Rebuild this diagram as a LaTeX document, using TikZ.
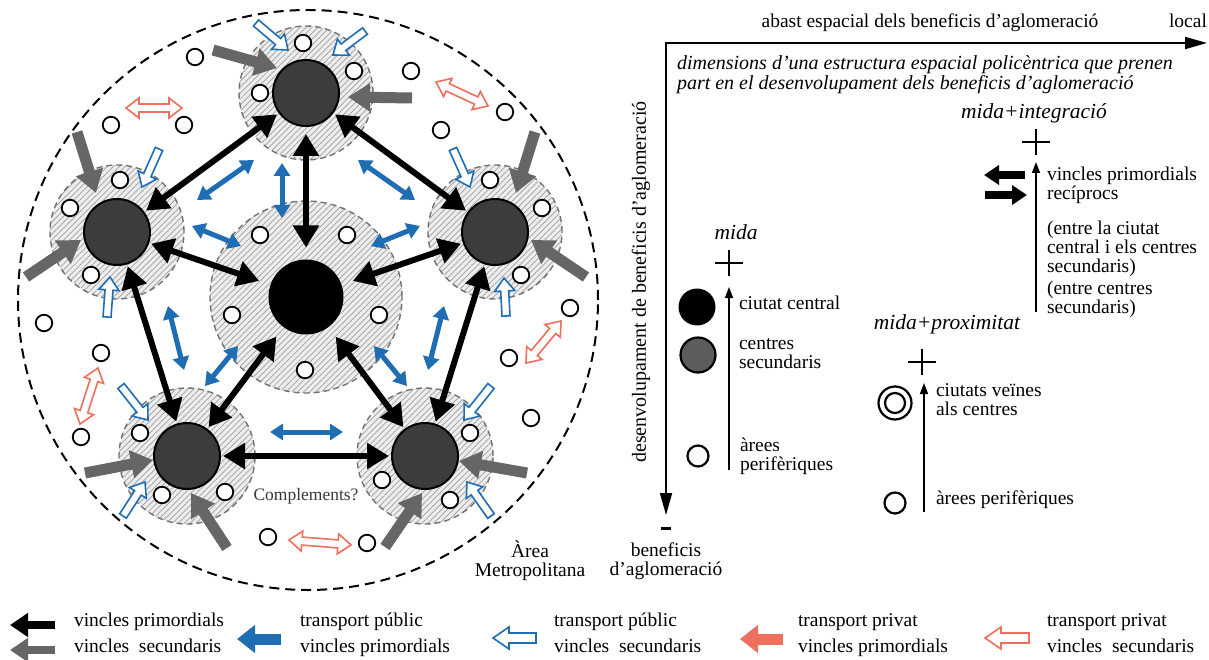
\documentclass[tikz,border=0pt]{standalone}
\usepackage{fontspec}
\setmainfont{Liberation Serif}
\usetikzlibrary{arrows.meta,calc,patterns.meta}
\definecolor{pubblue}{HTML}{1F6EB4}
\definecolor{privred}{HTML}{EE6F5C}
\definecolor{secgray}{HTML}{666666}
\definecolor{centregray}{HTML}{3C3C3C}
\definecolor{keygray}{HTML}{5C5C5C}
\newcommand\tallstrut{\rule{0pt}{13.5pt}}
% hollow single-headed arrow: style, tail, tip, shaft half-width, head half-width, head length
\newcommand\hollowarrow[6]{%
  \coordinate (hwA) at ($(#3)!#6!(#2)$);
  \draw[#1] ($(#2)!#4!90:(#3)$) -- ($(hwA)!#4!90:(#3)$) -- ($(hwA)!#5!90:(#3)$) -- (#3)
    -- ($(hwA)!#5!-90:(#3)$) -- ($(hwA)!#4!-90:(#3)$) -- ($(#2)!#4!-90:(#3)$) -- cycle;}
% hollow double-headed arrow: style, end, end, shaft half-width, head half-width, head length
\newcommand\hollowdarrow[6]{%
  \coordinate (hwA) at ($(#2)!#6!(#3)$);
  \coordinate (hwB) at ($(#3)!#6!(#2)$);
  \draw[#1] (#2) -- ($(hwA)!#5!90:(#3)$) -- ($(hwA)!#4!90:(#3)$) -- ($(hwB)!#4!-90:(#2)$)
    -- ($(hwB)!#5!-90:(#2)$) -- (#3) -- ($(hwB)!#5!90:(#2)$) -- ($(hwB)!#4!90:(#2)$)
    -- ($(hwA)!#4!-90:(#3)$) -- ($(hwA)!#5!-90:(#3)$) -- cycle;}
\begin{document}
\begin{tikzpicture}[x=1pt,y=-1pt,
  every node/.style={inner sep=0pt,outer sep=0pt},
  halo/.style={circle,draw=black!55,line width=1.4pt,dash pattern=on 6pt off 4pt,
    preaction={fill=black!7},
    pattern={Lines[angle=45,distance=4.2pt,line width=0.7pt]},pattern color=black!38},
  area/.style={circle,draw,line width=2pt,dash pattern=on 10pt off 6pt},
  pc/.style={circle,draw,line width=1.8pt,fill=white,minimum size=16.5pt},
  sec/.style={circle,draw,line width=2pt,fill=centregray,minimum size=66pt,outer sep=3pt},
  cen/.style={circle,fill=black,minimum size=75pt,outer sep=12pt},
  blk/.style={line width=6pt,{Triangle[length=22pt,width=25pt]}-{Triangle[length=22pt,width=25pt]}},
  pub/.style={draw=pubblue,line width=5pt,{Triangle[length=13pt,width=16pt]}-{Triangle[length=13pt,width=16pt]}},
  sgr/.style={draw=secgray,line width=11pt,-{Triangle[length=22pt,width=27pt]}},
  pubo/.style={draw=pubblue,fill=white,line width=1.6pt,line join=miter},
  privo/.style={draw=privred,fill=white,line width=1.6pt,line join=miter},
  axisline/.style={line width=1.8pt,{Triangle[length=22pt,width=12pt]}-{Triangle[length=22pt,width=12pt]}},
  uparrow/.style={line width=1.5pt,-{Triangle[length=11pt,width=8pt]}},
  plusmark/.style={line width=2.6pt},
  recip/.style={line width=8pt,-{Triangle[length=15pt,width=19pt]}},
  lbl/.style={font=\fontsize{19.5}{19}\selectfont},
  ml/.style={lbl,align=left,anchor=north west},
  itl/.style={font=\fontsize{21.5}{22}\selectfont\itshape,anchor=base},
  leg/.style={font=\fontsize{19.5}{26}\selectfont,align=left,anchor=north west}
]
\useasboundingbox (0,0) rectangle (1209,660);
\fill[white] (0,0) rectangle (1209,660);

% ---------------- hatched surroundings of the centres
\node[halo,minimum size=134pt] (hT) at (306,93) {};
\node[halo,minimum size=134pt] (hL) at (117,232) {};
\node[halo,minimum size=134pt] (hR) at (495,232) {};
\node[halo,minimum size=136pt] (hBL) at (187,456) {};
\node[halo,minimum size=136pt] (hBR) at (425,456) {};
\node[halo,minimum size=192pt] (hC) at (306,297) {};

% ---------------- metropolitan area
\node[area,minimum size=580pt] (area) at (308,300) {};

% ---------------- peripheral areas
\foreach \p [count=\i] in {(195,57),(303,43),(354,71),(260,93),(411,71),(111,125),(184,125),
  (441,130),(505,112),(120,180),(70,208),(91,275),(490,180),(542,208),(521,275),
  (260,235),(347,235),(232,315),(379,315),(305,370),(44,323),(570,308),(101,353),
  (509,358),(81,437),(531,418),(140,433),(162,495),(225,492),(470,433),(382,480),
  (450,500),(268,537),(367,543)}
  \node[pc] (per\i) at \p {};

% ---------------- centres
\node[sec] (T) at (306,93) {};
\node[sec] (L) at (117,232) {};
\node[sec] (R) at (495,232) {};
\node[sec] (BL) at (187,456) {};
\node[sec] (BR) at (425,456) {};
\node[cen] (C) at (306,297) {};

% ---------------- primary links
\draw[blk] (T) -- (L);
\draw[blk] (T) -- (R);
\draw[blk,shorten <=5pt] (T) -- (C);
\draw[blk] (L) -- (C);
\draw[blk] (R) -- (C);
\draw[blk] (BL) -- (C);
\draw[blk] (BR) -- (C);
\draw[blk] (L) -- (BL);
\draw[blk] (R) -- (BR);
\draw[blk] (BL) -- (BR);

% ---------------- public transport, primary links
\coordinate (p1a) at (254,160); \coordinate (p1b) at (197,200);
\coordinate (p2a) at (282,163); \coordinate (p2b) at (282,218);
\coordinate (p3a) at (358,160); \coordinate (p3b) at (415,200);
\coordinate (p4a) at (192,226); \coordinate (p4b) at (241,246);
\coordinate (p5a) at (420,226); \coordinate (p5b) at (371,246);
\coordinate (p6a) at (168,306); \coordinate (p6b) at (184,370);
\coordinate (p7a) at (444,306); \coordinate (p7b) at (428,370);
\coordinate (p8a) at (205,386); \coordinate (p8b) at (238,346);
\coordinate (p9a) at (407,386); \coordinate (p9b) at (374,346);
\coordinate (p10a) at (270,432); \coordinate (p10b) at (343,432);
\foreach \k in {1,...,10} \draw[pub] (p\k a) -- (p\k b);

% ---------------- secondary links
\coordinate (g1s) at (213,50);  \coordinate (g1e) at (277,68);
\coordinate (g2s) at (412,98);  \coordinate (g2e) at (348,97);
\coordinate (g3s) at (77,132);  \coordinate (g3e) at (96,193);
\coordinate (g4s) at (26,277);  \coordinate (g4e) at (81,240);
\coordinate (g5s) at (535,132); \coordinate (g5e) at (516,193);
\coordinate (g6s) at (586,277); \coordinate (g6e) at (531,240);
\coordinate (g7s) at (85,473);  \coordinate (g7e) at (153,460);
\coordinate (g8s) at (227,548); \coordinate (g8e) at (191,493);
\coordinate (g9s) at (527,473); \coordinate (g9e) at (459,461);
\coordinate (g10s) at (385,547); \coordinate (g10e) at (422,493);
\foreach \k in {1,...,10} \draw[sgr] (g\k s) -- (g\k e);

% ---------------- public transport, secondary links
\coordinate (b1s) at (256,23);  \coordinate (b1e) at (288,50);
\coordinate (b2s) at (365,31);  \coordinate (b2e) at (333,55);
\coordinate (b3s) at (159,149); \coordinate (b3e) at (142,187);
\coordinate (b4s) at (107,317); \coordinate (b4e) at (110,277);
\coordinate (b5s) at (453,149); \coordinate (b5e) at (470,187);
\coordinate (b6s) at (506,316); \coordinate (b6e) at (504,278);
\coordinate (b7s) at (121,386); \coordinate (b7e) at (148,420);
\coordinate (b8s) at (123,516); \coordinate (b8e) at (145,482);
\coordinate (b9s) at (491,386); \coordinate (b9e) at (464,420);
\coordinate (b10s) at (491,516); \coordinate (b10e) at (467,482);
\foreach \k in {1,...,10} {\hollowarrow{pubo}{b\k s}{b\k e}{4pt}{10pt}{13pt}}

% ---------------- private transport, secondary links
\coordinate (s1a) at (126,108); \coordinate (s1b) at (182,108);
\coordinate (s2a) at (436,82);  \coordinate (s2b) at (488,106);
\coordinate (s3a) at (98,368);  \coordinate (s3b) at (80,424);
\coordinate (s4a) at (561,321); \coordinate (s4b) at (526,363);
\coordinate (s5a) at (289,540); \coordinate (s5b) at (351,545);
\foreach \k in {1,...,5} {\hollowdarrow{privo}{s\k a}{s\k b}{4pt}{10pt}{13pt}}

\node[font=\fontsize{17.5}{18}\selectfont,text=black!78,anchor=base] (compl) at (306,500) {Complements?};
\node[lbl,align=center,anchor=north] (amb) at (530,541) {Àrea\\Metropolitana};

% ---------------- axes
\coordinate (O) at (666,43);
\coordinate (xend) at (1207,43);
\coordinate (yend) at (666,515);
\draw[axisline] (yend) -- (O) -- (xend);
\node[lbl,anchor=base] (xlab) at (930,27.5) {abast espacial dels beneficis d’aglomeració};
\node[lbl,anchor=base west] (loc) at (1169,27.5) {local};
\node[lbl,font=\fontsize{20}{20}\selectfont,rotate=90] (ylab) at (641,282) {desenvolupament de beneficis d’aglomeració};
\draw[line width=3pt] (661,528) -- (671,528);
\node[lbl,align=center,anchor=north] (minlab) at (666,543) {\tallstrut beneficis\\d’aglomeració};
\node[font=\fontsize{20}{20}\selectfont\itshape,align=left,anchor=north west] (dims) at (677,56)
  {\tallstrut dimensions d’una estructura espacial policèntrica que prenen\\part en el desenvolupament dels beneficis d’aglomeració};

% ---------------- size
\node[itl] (mida) at (736,240) {mida};
\draw[plusmark] (715,263) -- (743,263) (729,250) -- (729,276);
\coordinate (a1s) at (729,470); \coordinate (a1e) at (729,287);
\draw[uparrow] (a1s) -- (a1e);
\node[circle,fill=black,minimum size=37pt] (kC) at (697,307) {};
\node[circle,draw,line width=2.2pt,fill=keygray,minimum size=35pt] (kS) at (698,355) {};
\node[circle,draw,line width=2.2pt,minimum size=21pt] (kP) at (698,456) {};
\node[lbl,anchor=base west] (tC) at (739,309.5) {ciutat central};
\node[ml] (tS) at (739,336) {\tallstrut centres\\secundaris};
\node[ml] (tP) at (740,438) {\tallstrut àrees\\perifèriques};

% ---------------- size + proximity
\node[itl] (midap) at (947,329) {mida+proximitat};
\draw[plusmark] (908,362) -- (936,362) (922,349) -- (922,375);
\coordinate (a2s) at (924,512); \coordinate (a2e) at (924,383);
\draw[uparrow] (a2s) -- (a2e);
\node[circle,draw,line width=2.2pt,minimum size=33pt] (kN) at (895,403) {};
\node[circle,draw,line width=2.2pt,minimum size=20pt] (kNi) at (895,403) {};
\node[circle,draw,line width=2.2pt,minimum size=21pt] (kP2) at (895,503) {};
\node[ml] (tN) at (936,383) {\tallstrut ciutats veïnes\\als centres};
\node[lbl,anchor=base west] (tP2) at (936,504.5) {àrees perifèriques};

% ---------------- size + integration
\node[itl] (midai) at (1034,119) {mida+integració};
\draw[plusmark] (1022,142) -- (1050,142) (1036,129) -- (1036,155);
\coordinate (a3s) at (1036,312); \coordinate (a3e) at (1036,162);
\draw[uparrow] (a3s) -- (a3e);
\coordinate (rl1) at (1025,175); \coordinate (rl2) at (984,175);
\coordinate (rr1) at (985,195); \coordinate (rr2) at (1027,195);
\draw[recip] (rl1) -- (rl2);
\draw[recip] (rr1) -- (rr2);
\node[ml] (tR) at (1047,167) {\tallstrut vincles primordials\\recíprocs};
\node[ml] (tE1) at (1047,221) {\tallstrut (entre la ciutat\\central i els centres\\secundaris)};
\node[ml] (tE2) at (1047,281) {\tallstrut (entre centres\\secundaris)};

% ---------------- legend
\coordinate (k1s) at (55,625);  \coordinate (k1e) at (10,625);
\coordinate (k2s) at (55,650);  \coordinate (k2e) at (10,650);
\coordinate (k3s) at (281,639); \coordinate (k3e) at (237,639);
\coordinate (k4s) at (536,638); \coordinate (k4e) at (493,638);
\coordinate (k5s) at (783,639); \coordinate (k5e) at (740,639);
\coordinate (k6s) at (1029,638); \coordinate (k6e) at (985,638);
\draw[line width=8pt,-{Triangle[length=18pt,width=23pt]}] (k1s) -- (k1e);
\draw[draw=secgray,line width=8pt,-{Triangle[length=18pt,width=23pt]}] (k2s) -- (k2e);
\draw[draw=pubblue,line width=11pt,-{Triangle[length=18pt,width=27pt]}] (k3s) -- (k3e);
\hollowarrow{pubo}{k4s}{k4e}{5pt}{11pt}{16pt}
\draw[draw=privred,line width=11pt,-{Triangle[length=18pt,width=27pt]}] (k5s) -- (k5e);
\hollowarrow{privo}{k6s}{k6e}{5pt}{11pt}{16pt}
\node[leg] (l1) at (74,613) {\tallstrut vincles primordials\\vincles\ \ secundaris};
\node[leg] (l2) at (300,613) {\tallstrut transport públic\\vincles primordials};
\node[leg] (l3) at (554,613) {\tallstrut transport públic\\vincles\ \ secundaris};
\node[leg] (l4) at (798,613) {\tallstrut transport privat\\vincles primordials};
\node[leg] (l5) at (1047,613) {\tallstrut transport privat\\vincles\ \ secundaris};
\end{tikzpicture}
\end{document}
